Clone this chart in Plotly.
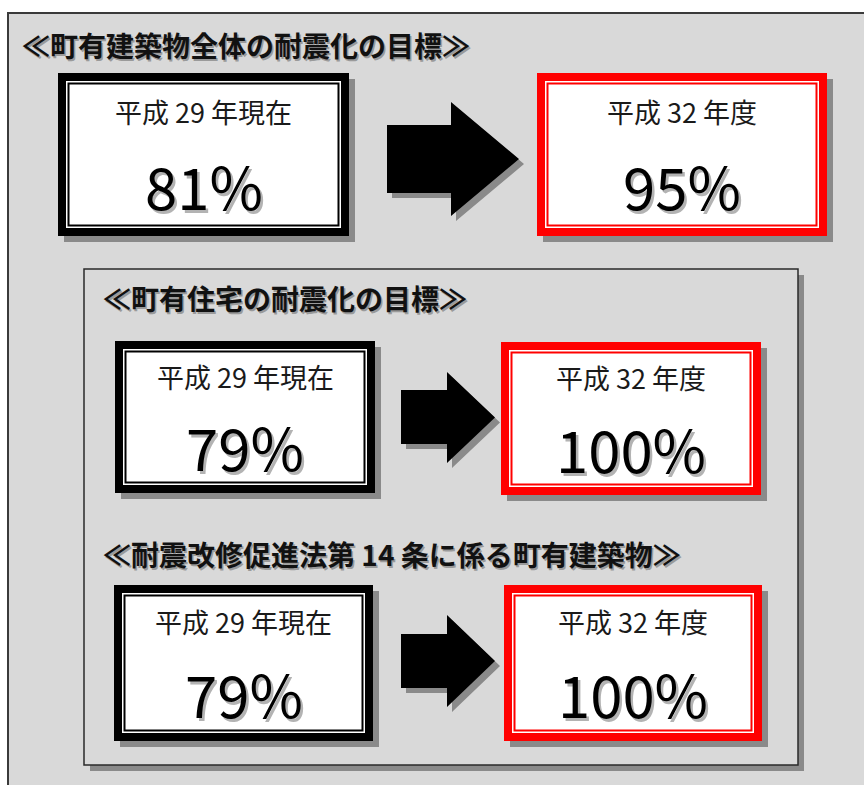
import plotly.graph_objects as go

# ---- content -------------------------------------------------------------
section_titles = [
    "≪町有建築物全体の耐震化の目標≫",
    "≪町有住宅の耐震化の目標≫",
    "≪耐震改修促進法第 14 条に係る町有建築物≫",
]
current_label = "平成 29 年現在"
target_label = "平成 32 年度"
current_rate = [81, 79, 79]   # %
target_rate = [95, 100, 100]  # %

# ---- layout geometry (pixels, y grows downward) ---------------------------
W, H = 864, 785
FONT = "Noto Sans CJK JP"
BG = "#d9d9d9"
SHADOW = "#8a8a8a"

title_pos = [(20, 45), (101, 298), (101, 554)]
cur_box = [(58, 73, 349, 236), (115, 341, 375, 493), (114, 585, 373, 741)]
tgt_box = [(537, 73, 827, 236), (501, 342, 761, 495), (504, 585, 762, 741)]
# arrow: body x0, head x, tip x, body y0, body y1, head y0, head y1
arrows = [
    (387, 451, 519, 125, 193, 102, 216),
    (401, 447, 495, 390, 444, 372, 463),
    (401, 447, 495, 634, 688, 615, 707),
]

shapes = []
annotations = []


def rect(x0, y0, x1, y1, fill=None, line_color=None, line_width=0):
    shapes.append(dict(
        type="rect", xref="x", yref="y", x0=x0, y0=y0, x1=x1, y1=y1,
        fillcolor=fill if fill else "rgba(0,0,0,0)",
        line=dict(color=line_color if line_color else "rgba(0,0,0,0)",
                  width=line_width),
        layer="above",
    ))


def text(x, y, s, size, color="#111", xanchor="center", bold=False,
         shadow="none"):
    annotations.append(dict(
        x=x, y=y, xref="x", yref="y", text=s, showarrow=False,
        xanchor=xanchor, yanchor="middle",
        font=dict(family=FONT, size=size, color=color, shadow=shadow,
                  weight="bold" if bold else "normal"),
    ))


def framed_box(box, color, label, value):
    x0, y0, x1, y1 = box
    rect(x0 + 6, y0 + 6, x1 + 6, y1 + 6, fill=SHADOW)
    rect(x0, y0, x1, y1, fill=color)
    rect(x0 + 8, y0 + 8, x1 - 8, y1 - 8, fill="white")
    rect(x0 + 10.5, y0 + 10.5, x1 - 10.5, y1 - 10.5, fill="white",
         line_color=color, line_width=2)
    cx = (x0 + x1) / 2
    h = y1 - y0
    text(cx, y0 + h * 0.235, label, 27, color="#1a1a1a")
    text(cx, y0 + h * 0.69, f"{value}%", 58, color="#000",
         shadow="2.5px 2.5px 0px #b3b3b3")


def arrow(a, dx=0, dy=0, color="black"):
    bx, hx, tx, by0, by1, hy0, hy1 = a
    ty = (hy0 + hy1) / 2
    pts = [(bx, by0), (hx, by0), (hx, hy0), (tx, ty), (hx, hy1), (hx, by1),
           (bx, by1)]
    path = "M " + " L ".join(f"{x + dx},{y + dy}" for x, y in pts) + " Z"
    shapes.append(dict(type="path", xref="x", yref="y", path=path,
                       fillcolor=color, line=dict(width=0), layer="above"))


# outer panel (runs off the right and bottom edges)
rect(8, 13, W + 20, H + 20, fill=BG, line_color="#3a3a3a", line_width=2)

# inner panel with drop shadow
rect(90, 275, 804, 771, fill=SHADOW)
rect(84, 269, 798, 765, fill=BG, line_color="#2a2a2a", line_width=1.5)

for i, title in enumerate(section_titles):
    tx, ty = title_pos[i]
    text(tx, ty, title, 28, color="#111", xanchor="left", bold=True,
         shadow="1.5px 1.5px 0px #9a9a9a")
    framed_box(cur_box[i], "black", current_label, current_rate[i])
    arrow(arrows[i], 5, 5, SHADOW)
    arrow(arrows[i])
    framed_box(tgt_box[i], "#ff0000", target_label, target_rate[i])

fig = go.Figure()
fig.update_layout(
    width=W, height=H,
    margin=dict(l=0, r=0, t=0, b=0),
    paper_bgcolor="white", plot_bgcolor="white",
    xaxis=dict(range=[0, W], visible=False, fixedrange=True),
    yaxis=dict(range=[H, 0], visible=False, fixedrange=True),
    shapes=shapes, annotations=annotations,
    showlegend=False,
)
fig.write_html("out.html", config={"displayModeBar": False})
